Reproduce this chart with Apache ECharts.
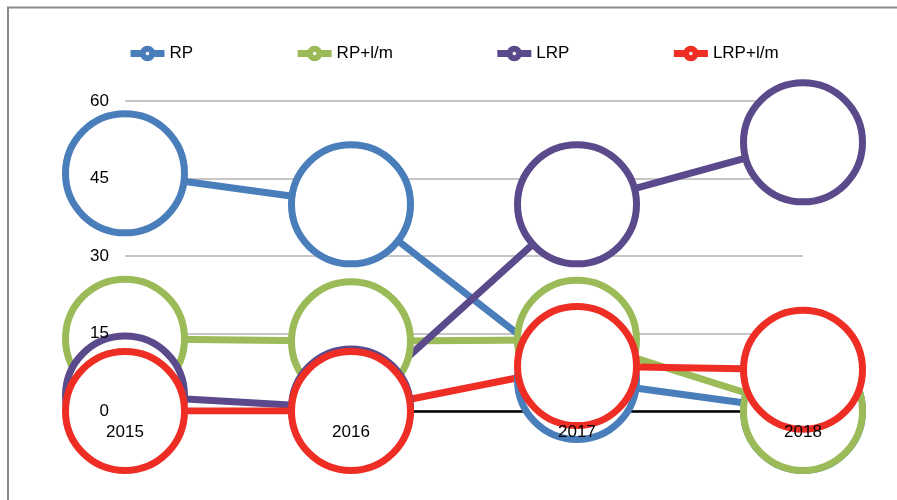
<!DOCTYPE html>
<html>
<head>
<meta charset="utf-8">
<script src="https://cdn.jsdelivr.net/npm/echarts@6/dist/echarts.min.js"></script>
<style>
  html, body { margin: 0; padding: 0; background: #fff; }
  #lineChart { width: 897px; height: 500px; }
</style>
</head>
<body>
<div id="lineChart"></div>
<script>
const years = ['2015', '2016', '2017', '2018']
const yTicks = [0, 15, 30, 45, 60]
const seriesNames = ['RP', 'RP+l/m', 'LRP', 'LRP+l/m']
const rp = [46, 40, 6, 0]
const rpLm = [14, 13.5, 13.8, 0]
const lrp = [3, 0.5, 40, 52]
const lrpLm = [0, 0, 8.7, 8]
const colors = ['#4a7ebb', '#9bbb59', '#5b4a8b', '#ee2e24']

const font = 'Liberation Sans, Arial, sans-serif'

function makeSeries(name, data, color) {
  return {
    name: name,
    type: 'line',
    data: data,
    symbol: 'circle', // 白色填充的大圆圈
    symbolSize: 119,
    showAllSymbol: true,
    lineStyle: { width: 7, color: color },
    itemStyle: { color: '#fff', borderColor: color, borderWidth: 7 },
    emphasis: { disabled: true }
  }
}

const chart = echarts.init(document.getElementById('lineChart'))
chart.setOption({
  animation: false,
  color: colors,
  graphic: [
    {
      // 外框：左边和上边
      type: 'polyline',
      shape: { points: [[8, 500], [8, 7.5], [897, 7.5]] },
      style: { stroke: '#8a8a8a', lineWidth: 2, fill: null }
    }
  ],
  legend: {
    left: 127,
    top: 45,
    padding: 0,
    itemWidth: 34,
    itemHeight: 12,
    itemGap: 101,
    lineStyle: { width: 7 },
    itemStyle: { borderWidth: 6 },
    textStyle: { color: '#000', fontSize: 17, fontFamily: font },
    data: seriesNames
  },
  grid: {
    left: 125,
    right: 94,
    top: 101,
    bottom: 89
  },
  xAxis: [
    {
      type: 'category',
      position: 'bottom',
      boundaryGap: false,
      data: years,
      axisLine: { show: true, lineStyle: { color: '#000', width: 2.5 } },
      axisTick: { show: false },
      axisLabel: { show: false },
      splitLine: { show: false }
    },
    {
      // 只放文字，盖在圆圈上面
      type: 'category',
      position: 'bottom',
      boundaryGap: false,
      data: years,
      z: 10,
      axisLine: { show: false },
      axisTick: { show: false },
      axisLabel: { color: '#000', fontSize: 17, fontFamily: font, margin: 13 },
      splitLine: { show: false }
    }
  ],
  yAxis: [
    {
      type: 'value',
      min: yTicks[0],
      max: yTicks[yTicks.length - 1],
      interval: 15,
      axisLine: { show: false },
      axisTick: { show: false },
      axisLabel: { show: false },
      splitLine: { show: true, lineStyle: { color: '#b3b3b3', width: 1.5 } }
    },
    {
      type: 'value',
      position: 'left',
      min: yTicks[0],
      max: yTicks[yTicks.length - 1],
      interval: 15,
      z: 10,
      axisLine: { show: false },
      axisTick: { show: false },
      axisLabel: { color: '#000', fontSize: 17, fontFamily: font, margin: 16 },
      splitLine: { show: false }
    }
  ],
  series: [
    makeSeries(seriesNames[0], rp, colors[0]),
    makeSeries(seriesNames[1], rpLm, colors[1]),
    makeSeries(seriesNames[2], lrp, colors[2]),
    makeSeries(seriesNames[3], lrpLm, colors[3])
  ]
})
</script>
</body>
</html>
